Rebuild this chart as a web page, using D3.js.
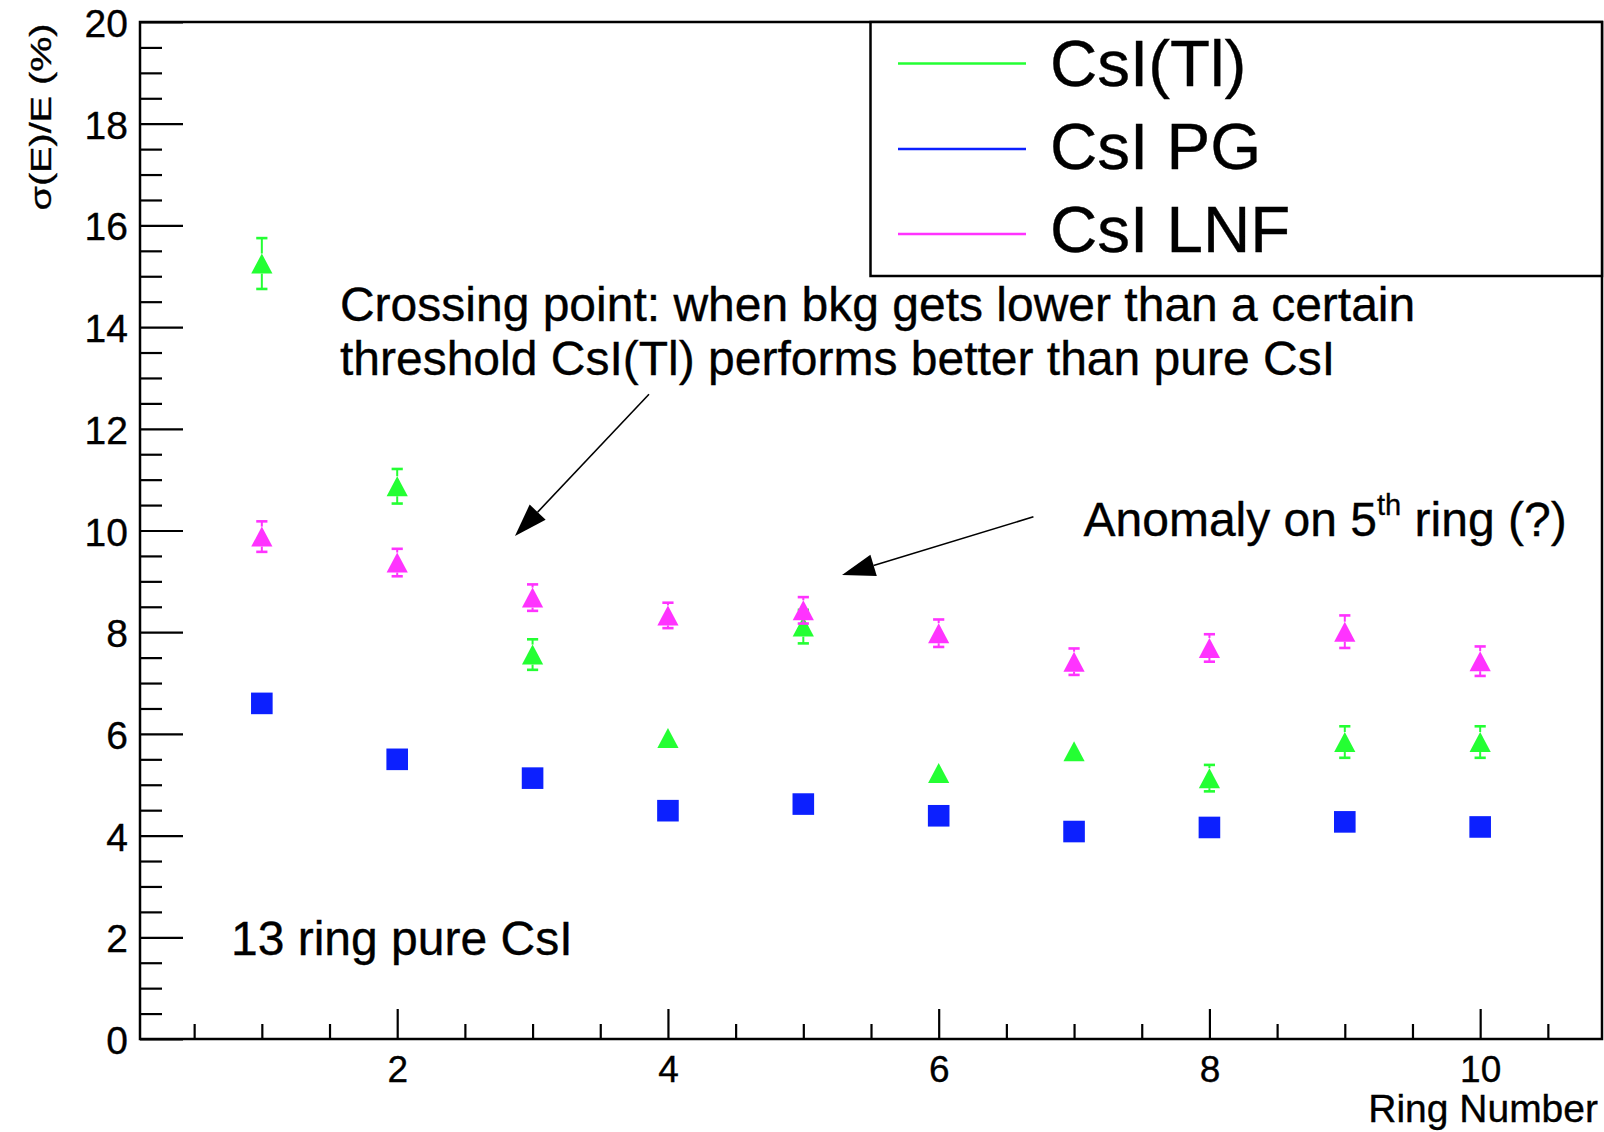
<!DOCTYPE html>
<html>
<head>
<meta charset="utf-8">
<script src="https://cdn.jsdelivr.net/npm/d3@7"></script>
<style>
  html, body { margin: 0; padding: 0; background: #fff; }
  svg { display: block; }
  text { font-family: "Liberation Sans", Arial, Helvetica, sans-serif; fill: #000; stroke: #000; stroke-width: 0.35px; }
</style>
</head>
<body>
<svg id="chart" width="1604" height="1132"></svg>
<script>
// Energy resolution sigma(E)/E (%) per ring, for three crystal types
const rings      = [1, 2, 3, 4, 5, 6, 7, 8, 9, 10];
const csiTl      = [15.25, 10.87, 7.56, 5.92, 8.11, 5.23, 5.66, 5.13, 5.84, 5.84];
const csiTlErr   = [0.50, 0.34, 0.30, 0.15, 0.33, 0.15, 0.15, 0.26, 0.31, 0.31];
const csiPG      = [6.60, 5.50, 5.13, 4.49, 4.62, 4.39, 4.08, 4.16, 4.27, 4.17];
const csiLNF     = [9.88, 9.37, 8.68, 8.33, 8.43, 7.98, 7.42, 7.69, 8.01, 7.43];
const csiLNFErr  = [0.30, 0.27, 0.26, 0.25, 0.26, 0.27, 0.26, 0.27, 0.32, 0.29];
const seriesNames = ["CsI(Tl)", "CsI PG", "CsI LNF"];

const xTickValues = [2, 4, 6, 8, 10];
const yTickValues = [0, 2, 4, 6, 8, 10, 12, 14, 16, 18, 20];
const xDomain = [0.1, 10.9];
const yDomain = [0, 20];

const xTitle = "Ring Number";
const yTitle = "σ(E)/E (%)";
const noteCrossing = ["Crossing point: when bkg gets lower than a certain",
                      "threshold CsI(Tl) performs better than pure CsI"];
const noteAnomaly = { pre: "Anomaly on 5", sup: "th", post: " ring (?)" };
const noteSample = "13 ring pure CsI";

// ---- layout ----
const frame = { left: 140, top: 22, right: 1602, bottom: 1039 };
const colors = { tl: "#24ff33", pg: "#0c20ff", lnf: "#ff33ff" };
const font = "\"Liberation Sans\", Arial, Helvetica, sans-serif";

const svg = d3.select("#chart");

const x = d3.scaleLinear().domain(xDomain).range([frame.left, frame.right]);
const y = d3.scaleLinear().domain(yDomain).range([frame.bottom, frame.top]);

// frame
svg.append("rect")
  .attr("x", frame.left).attr("y", frame.top)
  .attr("width", frame.right - frame.left).attr("height", frame.bottom - frame.top)
  .attr("fill", "none").attr("stroke", "#000").attr("stroke-width", 2.5);

// y axis: major ticks with labels, minor ticks every 0.5
const yMinor = d3.range(0, 20.001, 0.5).filter(v => !yTickValues.includes(v));
const yAxisMajor = svg.append("g")
  .attr("transform", `translate(${frame.left},0)`)
  .call(d3.axisLeft(y).tickValues(yTickValues).tickSize(-43).tickPadding(12).tickFormat(d3.format("d")));
yAxisMajor.select(".domain").remove();
yAxisMajor.selectAll(".tick line").attr("stroke", "#000").attr("stroke-width", 2.2);
yAxisMajor.selectAll(".tick text")
  .attr("font-family", font).attr("font-size", 39).attr("fill", "#000")
  .attr("dy", null).attr("y", 14.5);

const yAxisMinor = svg.append("g")
  .attr("transform", `translate(${frame.left},0)`)
  .call(d3.axisLeft(y).tickValues(yMinor).tickSize(-22).tickFormat(""));
yAxisMinor.select(".domain").remove();
yAxisMinor.selectAll(".tick line").attr("stroke", "#000").attr("stroke-width", 2.2);

// x axis
const xMinor = d3.range(0.5, 10.9, 0.5).filter(v => !xTickValues.includes(v));
const xAxisMajor = svg.append("g")
  .attr("transform", `translate(0,${frame.bottom})`)
  .call(d3.axisBottom(x).tickValues(xTickValues).tickSize(-30).tickFormat(d3.format("d")));
xAxisMajor.select(".domain").remove();
xAxisMajor.selectAll(".tick line").attr("stroke", "#000").attr("stroke-width", 2.2);
xAxisMajor.selectAll(".tick text")
  .attr("font-family", font).attr("font-size", 37).attr("fill", "#000")
  .attr("dy", null).attr("y", 43);

const xAxisMinor = svg.append("g")
  .attr("transform", `translate(0,${frame.bottom})`)
  .call(d3.axisBottom(x).tickValues(xMinor).tickSize(-15).tickFormat(""));
xAxisMinor.select(".domain").remove();
xAxisMinor.selectAll(".tick line").attr("stroke", "#000").attr("stroke-width", 2.2);

// axis titles
svg.append("text")
  .attr("x", 1598).attr("y", 1122)
  .attr("text-anchor", "end").attr("font-size", 39)
  .text(xTitle);

svg.append("text")
  .attr("transform", "translate(50.5,23.5) rotate(-90)")
  .attr("text-anchor", "end").attr("font-size", 30)
  .attr("textLength", 187).attr("lengthAdjust", "spacingAndGlyphs")
  .text(yTitle);

// ---- series ----
const series = [
  { name: seriesNames[0], values: csiTl,  errors: csiTlErr,  color: colors.tl,  marker: "triangle" },
  { name: seriesNames[1], values: csiPG,  errors: null,      color: colors.pg,  marker: "square" },
  { name: seriesNames[2], values: csiLNF, errors: csiLNFErr, color: colors.lnf, marker: "triangle" }
];

const triHalfH = 10, triHalfW = 10.6, sqHalf = 10.8, capHalf = 5.6;
const trianglePath = `M0,${-triHalfH}L${triHalfW},${triHalfH}L${-triHalfW},${triHalfH}Z`;

series.forEach(s => {
  const g = svg.append("g").attr("class", "series");
  const pts = rings.map((r, i) => ({ r, v: s.values[i], e: s.errors ? s.errors[i] : 0 }));

  // vertical error bars drawn outside the marker, with end caps
  if (s.errors) {
    const eg = g.append("g").attr("stroke", s.color).attr("fill", "none");
    pts.forEach(p => {
      const cx = x(p.r), cy = y(p.v);
      const yTop = y(p.v + p.e), yBot = y(p.v - p.e);
      const half = triHalfH;
      if (cy - yTop > half - 1) {
        eg.append("line").attr("x1", cx).attr("x2", cx).attr("y1", yTop).attr("y2", cy - half)
          .attr("stroke-width", 2);
        eg.append("line").attr("x1", cx - capHalf).attr("x2", cx + capHalf).attr("y1", yTop).attr("y2", yTop)
          .attr("stroke-width", 2.6);
      }
      if (yBot - cy > half - 1) {
        eg.append("line").attr("x1", cx).attr("x2", cx).attr("y1", cy + half).attr("y2", yBot)
          .attr("stroke-width", 2);
        eg.append("line").attr("x1", cx - capHalf).attr("x2", cx + capHalf).attr("y1", yBot).attr("y2", yBot)
          .attr("stroke-width", 2.6);
      }
    });
  }

  if (s.marker === "triangle") {
    g.selectAll("path.pt").data(pts).join("path")
      .attr("class", "pt")
      .attr("d", trianglePath)
      .attr("transform", d => `translate(${x(d.r)},${y(d.v)})`)
      .attr("fill", s.color);
  } else {
    g.selectAll("rect.pt").data(pts).join("rect")
      .attr("class", "pt")
      .attr("x", d => x(d.r) - sqHalf).attr("y", d => y(d.v) - sqHalf)
      .attr("width", sqHalf * 2).attr("height", sqHalf * 2)
      .attr("fill", s.color);
  }
});

// ---- legend ----
const legend = { left: 870.5, top: 22, right: 1602, bottom: 276,
                 lineX1: 898, lineX2: 1026, textX: 1050,
                 lineY: [63.5, 149, 234], baseY: [86, 169, 252] };
svg.append("rect")
  .attr("x", legend.left).attr("y", legend.top)
  .attr("width", legend.right - legend.left).attr("height", legend.bottom - legend.top)
  .attr("fill", "#fff").attr("stroke", "#000").attr("stroke-width", 2.5);
series.forEach((s, i) => {
  svg.append("line")
    .attr("x1", legend.lineX1).attr("x2", legend.lineX2)
    .attr("y1", legend.lineY[i]).attr("y2", legend.lineY[i])
    .attr("stroke", s.color).attr("stroke-width", 2.6);
  svg.append("text")
    .attr("x", legend.textX).attr("y", legend.baseY[i])
    .attr("font-size", 65.5)
    .text(s.name);
});

// ---- annotations (placed in data coordinates) ----
const noteSize = 48;
svg.append("text").attr("x", x(1.577)).attr("y", y(14.12)).attr("font-size", noteSize).text(noteCrossing[0]);
svg.append("text").attr("x", x(1.577)).attr("y", y(13.05)).attr("font-size", noteSize).text(noteCrossing[1]);

const an = svg.append("text").attr("x", x(7.07)).attr("y", y(9.89)).attr("font-size", noteSize);
an.append("tspan").text(noteAnomaly.pre);
an.append("tspan").attr("font-size", 29).attr("dy", -21).text(noteAnomaly.sup);
an.append("tspan").attr("dy", 21).text(noteAnomaly.post);

svg.append("text").attr("x", x(0.772)).attr("y", y(1.65)).attr("font-size", noteSize).text(noteSample);

// arrows pointing at the crossing region and at ring 5
const arrows = [
  { from: [3.86, 12.68], to: [2.87, 9.89] },
  { from: [6.70, 10.27], to: [5.286, 9.125] }
];
const headLen = 33, headHalf = 11;
arrows.forEach(a => {
  const x1 = x(a.from[0]), y1 = y(a.from[1]);
  const x2 = x(a.to[0]),   y2 = y(a.to[1]);
  const ang = Math.atan2(y2 - y1, x2 - x1);
  const bx = x2 - headLen * Math.cos(ang), by = y2 - headLen * Math.sin(ang);
  const nx = -Math.sin(ang), ny = Math.cos(ang);
  svg.append("line")
    .attr("x1", x1).attr("y1", y1).attr("x2", bx).attr("y2", by)
    .attr("stroke", "#000").attr("stroke-width", 1.6);
  svg.append("path")
    .attr("d", `M${x2},${y2}L${bx + nx * headHalf},${by + ny * headHalf}L${bx - nx * headHalf},${by - ny * headHalf}Z`)
    .attr("fill", "#000");
});
</script>
</body>
</html>
